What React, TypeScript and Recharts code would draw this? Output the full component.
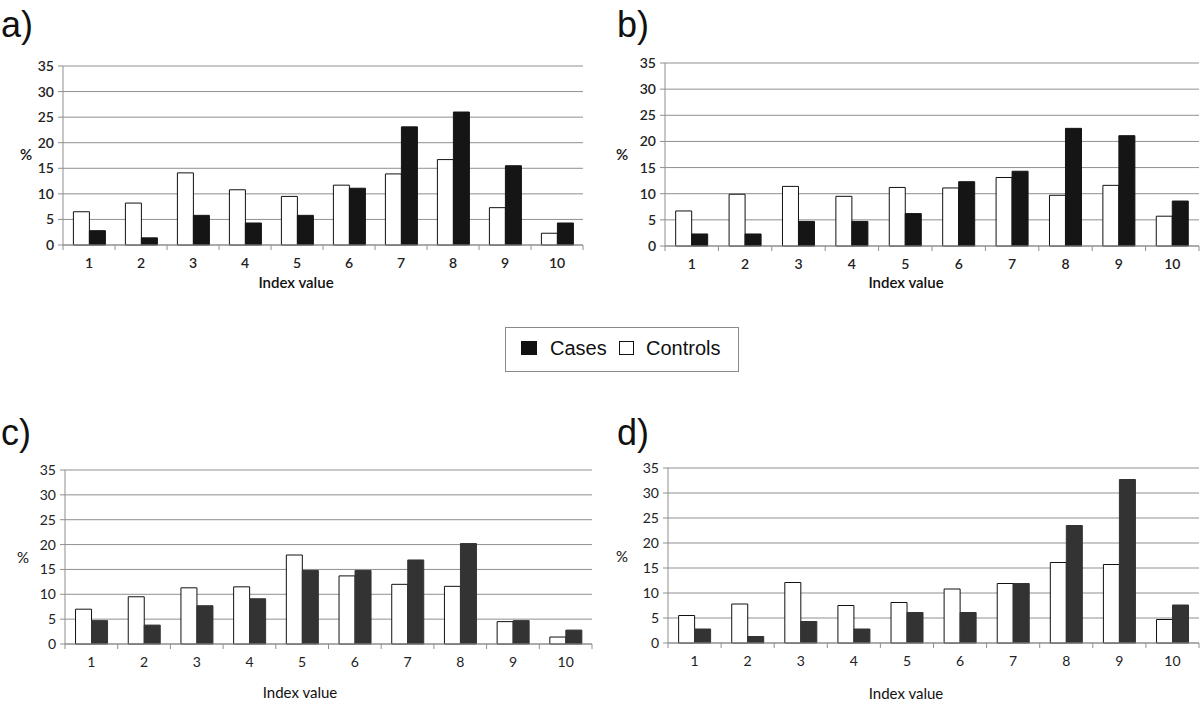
import React from "react";
import { BarChart, Bar, XAxis, YAxis, CartesianGrid } from "recharts";

const indexLabels = ["1", "2", "3", "4", "5", "6", "7", "8", "9", "10"];
const yTicks = [0, 5, 10, 15, 20, 25, 30, 35];

// panel a
const aControls = [6.5, 8.2, 14.1, 10.8, 9.5, 11.7, 13.9, 16.7, 7.3, 2.3];
const aCases = [2.8, 1.4, 5.8, 4.3, 5.8, 11.1, 23.1, 26.0, 15.5, 4.3];
// panel b
const bControls = [6.7, 9.9, 11.4, 9.5, 11.2, 11.1, 13.1, 9.7, 11.6, 5.7];
const bCases = [2.3, 2.3, 4.7, 4.7, 6.2, 12.3, 14.3, 22.5, 21.1, 8.6];
// panel c
const cControls = [7.0, 9.5, 11.3, 11.5, 17.9, 13.7, 12.0, 11.6, 4.5, 1.4];
const cCases = [4.7, 3.8, 7.7, 9.1, 14.8, 14.8, 16.9, 20.2, 4.7, 2.8];
// panel d
const dControls = [5.5, 7.8, 12.1, 7.5, 8.1, 10.8, 11.9, 16.1, 15.7, 4.7];
const dCases = [2.8, 1.3, 4.3, 2.8, 6.1, 6.1, 11.9, 23.5, 32.7, 7.6];

const rows = (controls: number[], cases: number[]) =>
  indexLabels.map((idx, i) => ({ idx, controls: controls[i], cases: cases[i] }));

const GRID = "#8f8f8f";
const TXT = "#222";
const LABEL_FONT = "Lato, 'Open Sans', sans-serif";
const HEAD_FONT = "'Liberation Sans', Arial, sans-serif";

const XTick = ({ x, y, payload, index, band, weight }: any) => (
  <g>
    <line x1={x - band / 2} x2={x - band / 2} y1={y} y2={y + 5} stroke={GRID} />
    {index === 9 && <line x1={x + band / 2} x2={x + band / 2} y1={y} y2={y + 5} stroke={GRID} />}
    <text x={x} y={y + 18} dy="0.35em" textAnchor="middle" fontSize={14} fontWeight={weight} fill={TXT} fontFamily={LABEL_FONT}>
      {payload.value}
    </text>
  </g>
);

interface PanelProps {
  data: any[];
  x0: number; x1: number; y0: number; y1: number;
  casesFill: string;
  weight: number;
}

function Panel({ data, x0, x1, y0, y1, casesFill, weight }: PanelProps) {
  const yw = 60;
  const band = (x1 - x0) / 10;
  return (
    <div style={{ position: "absolute", left: x0 - yw, top: y0 - 8 }}>
      <BarChart
        width={x1 - x0 + yw + 1}
        height={y1 - y0 + 8 + 30}
        data={data}
        margin={{ top: 8, right: 1, bottom: 0, left: 0 }}
        barCategoryGap="20%"
        barGap={0}
      >
        <CartesianGrid vertical={false} stroke={GRID} />
        <XAxis
          dataKey="idx"
          height={30}
          stroke={GRID}
          tickLine={false}
          tickSize={0}
          tickMargin={0}
          interval={0}
          tick={(p: any) => <XTick {...p} band={band} weight={weight} />}
        />
        <YAxis
          width={yw}
          domain={[0, 35]}
          ticks={yTicks}
          interval={0}
          stroke={GRID}
          tickSize={5}
          tickMargin={4}
          tick={{ fontSize: 14, fill: TXT, fontFamily: LABEL_FONT, fontWeight: weight }}
        />
        <Bar dataKey="controls" fill="#ffffff" stroke="#111" strokeWidth={1} isAnimationActive={false} />
        <Bar dataKey="cases" fill={casesFill} stroke={casesFill} strokeWidth={1} isAnimationActive={false} />
      </BarChart>
    </div>
  );
}

const Txt = ({ left, top, size, children, font = LABEL_FONT, center = false, weight = 400 }: any) => (
  <div
    style={{
      position: "absolute", left, top, fontSize: size, lineHeight: 1, fontFamily: font, color: "#111",
      fontWeight: weight, whiteSpace: "nowrap", transform: center ? "translateX(-50%)" : undefined,
    }}
  >
    {children}
  </div>
);

export default function App() {
  return (
    <div style={{ position: "absolute", left: 0, top: 0, width: 1200, height: 702, background: "#fff", overflow: "hidden" }}>
      <Panel data={rows(aControls, aCases)} x0={63} x1={583} y0={66} y1={245} casesFill="#151515" weight={600} />
      <Panel data={rows(bControls, bCases)} x0={665} x1={1199} y0={63} y1={246} casesFill="#151515" weight={600} />
      <Panel data={rows(cControls, cCases)} x0={65} x1={592} y0={470} y1={644} casesFill="#333333" weight={400} />
      <Panel data={rows(dControls, dCases)} x0={668} x1={1199} y0={468} y1={643} casesFill="#333333" weight={400} />

      <Txt left={1} top={7} size={36} font={HEAD_FONT}>a)</Txt>
      <Txt left={617} top={7} size={36} font={HEAD_FONT}>b)</Txt>
      <Txt left={1} top={415} size={36} font={HEAD_FONT}>c)</Txt>
      <Txt left={617} top={415} size={36} font={HEAD_FONT}>d)</Txt>

      <Txt left={20} top={147} size={15} weight={600}>%</Txt>
      <Txt left={616} top={147} size={15} weight={600}>%</Txt>
      <Txt left={17} top={550} size={15}>%</Txt>
      <Txt left={616} top={549} size={15}>%</Txt>

      <Txt left={296} top={275} size={15} weight={600} center>Index value</Txt>
      <Txt left={906} top={275} size={15} weight={600} center>Index value</Txt>
      <Txt left={300} top={685} size={15} center>Index value</Txt>
      <Txt left={906} top={686} size={15} center>Index value</Txt>

      <div style={{ position: "absolute", left: 505, top: 327, width: 232, height: 43, border: "1px solid #8a8a8a" }}>
        <div style={{ position: "absolute", left: 15, top: 13, width: 16, height: 14, background: "#111" }} />
        <Txt left={44} top={10} size={20} font={HEAD_FONT}>Cases</Txt>
        <div style={{ position: "absolute", left: 113, top: 13, width: 13, height: 12, border: "1px solid #111", background: "#fff" }} />
        <Txt left={140} top={10} size={20} font={HEAD_FONT}>Controls</Txt>
      </div>
    </div>
  );
}
